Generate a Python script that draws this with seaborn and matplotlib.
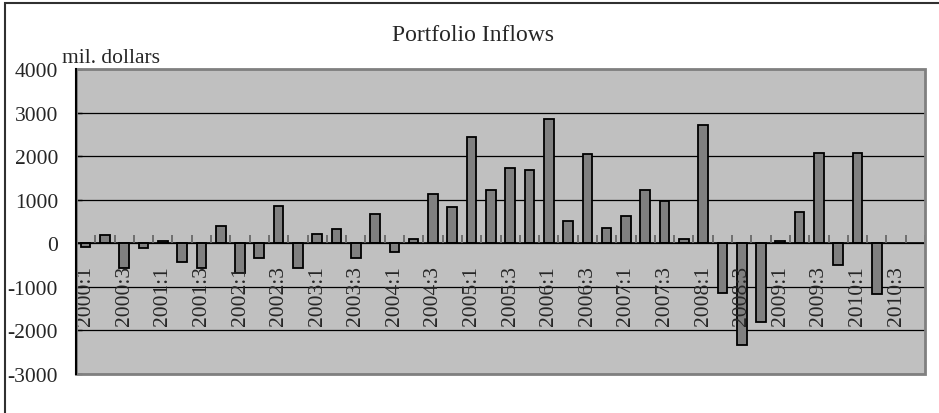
import matplotlib
matplotlib.use("Agg")
import matplotlib.pyplot as plt
from matplotlib.patches import Rectangle
import numpy as np
import pandas as pd
import seaborn as sns

# quarterly portfolio inflows, mil. dollars (2010:3 and 2010:4 have no data)
quarters = [f"{y}:{q}" for y in range(2000, 2011) for q in range(1, 5)]
inflows = [
    -90, 190, -570, -100,
    60, -420, -570, 400,
    -690, -345, 865, -560,
    220, 320, -345, 672,
    -207, 100, 1125, 840,
    2447, 1223, 1735, 1690,
    2846, 505, 2042, 358,
    627, 1223, 970, 107,
    2708, -1148, -2334, -1800,
    60, 725, 2066, -490,
    2066, -1163, np.nan, np.nan,
]
tick_labels = quarters[::2]
y_ticks = [-3000, -2000, -1000, 0, 1000, 2000, 3000, 4000]

df = pd.DataFrame({"quarter": quarters, "inflow": inflows})

sns.set_style("white")
plt.rcParams["font.family"] = ["Liberation Serif", "DejaVu Serif"]

W, H, dpi = 939, 414, 100
fig = plt.figure(figsize=(W / dpi, H / dpi), dpi=dpi)
ax = fig.add_axes([76 / W, 1 - 375 / H, (925 - 76) / W, (375 - 70) / H])
ax.set_facecolor("#c0c0c0")

sns.barplot(
    data=df.dropna(),
    x="quarter",
    y="inflow",
    order=quarters,
    color="#808080",
    saturation=1,
    width=0.5,
    edgecolor="black",
    linewidth=1.3,
    errorbar=None,
    ax=ax,
    zorder=3,
)

ax.set_xlim(-0.5, len(quarters) - 0.5)
ax.set_ylim(-3000, 4000)
ax.set_yticks(y_ticks)
ax.set_yticklabels([str(v) for v in y_ticks], fontsize=15.5)
ax.yaxis.grid(True, color="black", linewidth=0.9)
ax.set_axisbelow(True)

# category axis sits on the zero line, labels drawn over the bars
ax.spines["bottom"].set_position(("data", 0))
ax.spines["bottom"].set_color("black")
ax.spines["bottom"].set_linewidth(1.2)
ax.spines["bottom"].set_zorder(4)
for s in ["top", "right"]:
    ax.spines[s].set_visible(False)
ax.spines["left"].set_color("black")
ax.spines["left"].set_linewidth(1.5)
ax.spines["left"].set_zorder(6)

ax.set_xticks(range(0, len(quarters), 2))
ax.set_xticklabels(tick_labels, rotation=90, fontsize=15.5)
ax.set_xticks(np.arange(-0.5, len(quarters), 1), minor=True)
ax.tick_params(axis="x", which="major", length=0, pad=15.5, bottom=True)
ax.tick_params(axis="x", which="minor", direction="in", length=5.5, width=1.2,
               color="#606060", bottom=True)
ax.tick_params(axis="y", direction="in", length=4.5, width=1, color="black", pad=13, left=True)
ax.xaxis.set_zorder(4.5)
ax.set_xlabel("")
ax.set_ylabel("")

# plot-area border
ax.add_patch(Rectangle((0, 0), 1, 1, transform=ax.transAxes, fill=False,
                       edgecolor="#808080", linewidth=2, zorder=5, clip_on=False))

fig.text(473 / W, 1 - 36 / H, "Portfolio Inflows", ha="center", va="center", fontsize=17)
fig.text(62 / W, 1 - 63 / H, "mil. dollars", ha="left", va="baseline", fontsize=15.5)

# outer chart frame
fig.add_artist(Rectangle((5 / W, -0.05), 1.2, 1.05 - 4 / H, transform=fig.transFigure,
                         fill=False, edgecolor="#303030", linewidth=1.5))

fig.savefig("out.png", dpi=dpi)
